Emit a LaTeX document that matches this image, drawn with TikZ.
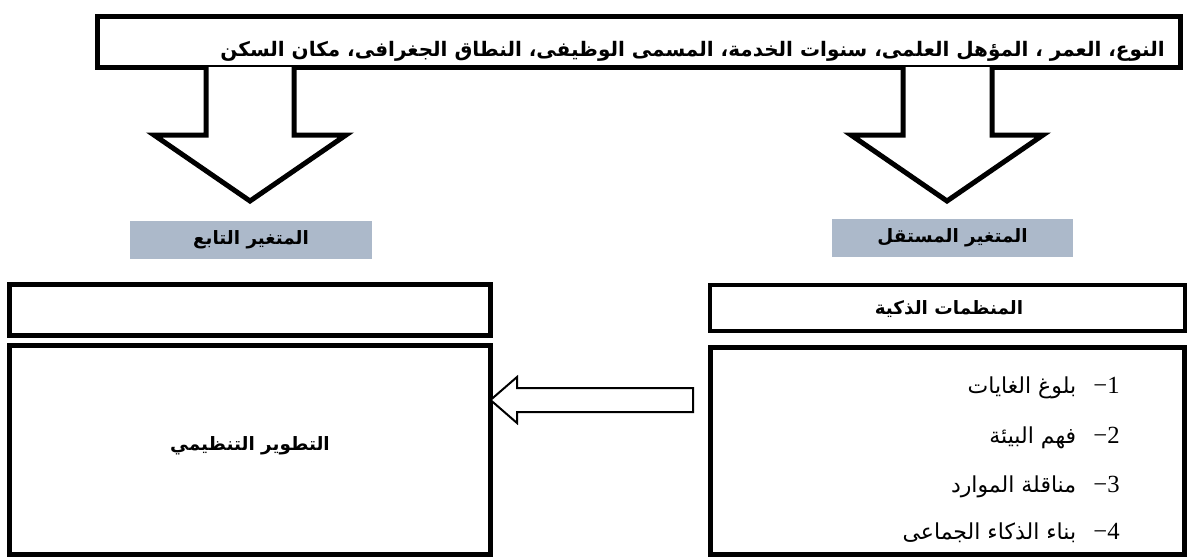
\documentclass[tikz,border=0pt]{standalone}
\usepackage{fontspec}
\setmainfont{Liberation Serif}
\newfontfamily\ar[Script=Arabic]{DejaVu Sans}
\TeXXeTstate=1
\definecolor{banner}{HTML}{ACB9CA}
\begin{document}
\begin{tikzpicture}[x=0.75pt,y=-0.75pt,
  box/.style={draw=black, line width=3.75pt, rectangle, inner sep=0pt, outer sep=0pt},
  thinbox/.style={box, line width=2.8pt},
  bannerbox/.style={fill=banner, rectangle, inner sep=0pt, outer sep=0pt, minimum width=181pt, minimum height=28.5pt},
  btext/.style={font=\ar\bfseries\fontsize{13.8}{16}\selectfont, inner sep=0pt},
  ltext/.style={font=\fontsize{18.5}{20}\selectfont, inner sep=0pt, anchor=base east},
  blockarrow/.style={draw=black, line width=3.75pt, line join=miter, fill=white},
  hollow/.style={draw=black, line width=1.5pt, line join=miter, fill=white}]
\useasboundingbox (0,0) rectangle (1189,558);

% boxes
\node[box, minimum width=812.25pt, minimum height=38.25pt] (top) at (638.5,41.5) {};
\node[box, minimum width=360.75pt, minimum height=38.25pt] (depsmall) at (250,310) {};
\node[box, minimum width=360.75pt, minimum height=157.1pt] (depbig) at (250,450.25) {};
\node[thinbox, minimum width=356.4pt, minimum height=34.65pt] (indsmall) at (947.5,308) {};
\node[box, minimum width=355.5pt, minimum height=155.6pt] (indbig) at (947.5,451.25) {};

% banners
\node[bannerbox] (depban) at (251,240) {};
\node[bannerbox] (indban) at (952.5,238) {};
\node[btext] (depbantext) at (depban.center) {\beginR المتغير التابع\endR};
\node[btext] (indbantext) at (indban.center) {\beginR المتغير المستقل\endR};

% block arrows
\draw[blockarrow] (206,67) -- (206,135) -- (154,135) -- (250,201) -- (346,135) -- (294,135) -- (294,67);
\draw[blockarrow] (903,67) -- (903,135) -- (851,135) -- (947,201) -- (1043,135) -- (992,135) -- (992,67);

% top text
\node[btext, font=\ar\bfseries\fontsize{15}{17}\selectfont, anchor=base east] (toptext) at (1165,56)
  {\beginR النوع، العمر ، المؤهل العلمى، سنوات الخدمة، المسمى الوظيفى، النطاق الجغرافى، مكان السكن\endR};

% box texts
\node[btext] (indtitle) at (949,309) {\beginR المنظمات الذكية\endR};
\node[btext] (deptitle) at (250,446) {\beginR التطوير التنظيمي\endR};

% list
\node[ltext] (i1) at (1120,393) {{\ar\fontsize{16.5}{18}\selectfont\beginR بلوغ الغايات\endR}\hspace{13pt}−1};
\node[ltext] (i2) at (1120,443) {{\ar\fontsize{16.5}{18}\selectfont\beginR فهم البيئة\endR}\hspace{13pt}−2};
\node[ltext] (i3) at (1120,492) {{\ar\fontsize{16.5}{18}\selectfont\beginR مناقلة الموارد\endR}\hspace{13pt}−3};
\node[ltext] (i4) at (1120,539) {{\ar\fontsize{16.5}{18}\selectfont\beginR بناء الذكاء الجماعى\endR}\hspace{13pt}−4};

% hollow arrow from independent to dependent
\coordinate (tip) at (depbig.east |- 0,400);
\draw[hollow] (tip) -- (517,377) -- (517,388) -- (693,388) -- (693,412) -- (517,412) -- (517,423) -- cycle;
\end{tikzpicture}
\end{document}
